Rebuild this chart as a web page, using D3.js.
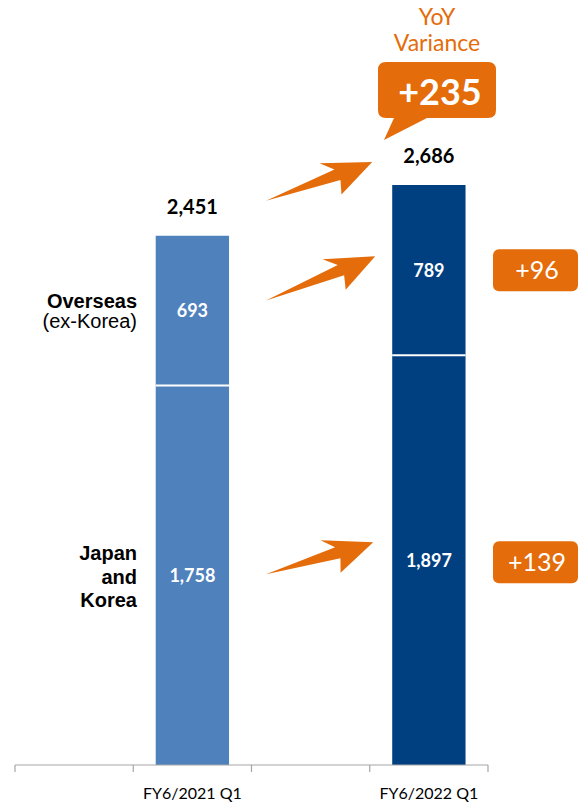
<!DOCTYPE html>
<html><head><meta charset="utf-8">
<script src="https://cdn.jsdelivr.net/npm/d3@7"></script>
<style>body{margin:0;background:#fff}svg{display:block}</style>
</head><body>
<script>
const categories = ["", "FY6/2021 Q1", " ", "FY6/2022 Q1"];
const barCategories = ["FY6/2021 Q1", "FY6/2022 Q1"];
const japanKorea = [1758, 1897];
const overseas = [693, 789];
const totals = [2451, 2686];
const segmentVariance = ["+139", "+96"];
const totalVariance = "+235";
const calloutTitle = ["YoY", "Variance"];

const W = 579, H = 803;
const ORANGE = "#E46C0A";
const colors = ["#4F81BD", "#003F80"];
const numFont = "Lato, 'Open Sans', sans-serif";

const svg = d3.select("body").append("svg").attr("width", W).attr("height", H);

const x = d3.scaleBand().domain(categories).range([15, 488]).paddingInner(0.38).paddingOuter(0.19);
const y = d3.scaleLinear().domain([0, 2686]).range([765, 185]);

// bars
const stack = barCategories.map((c, i) => ({c, i, jk: japanKorea[i], ov: overseas[i], tot: totals[i]}));
const g = svg.append("g");
stack.forEach(d => {
  const x0 = x(d.c), bw = x.bandwidth();
  g.append("rect").attr("x", x0).attr("width", bw)
    .attr("y", y(d.jk)).attr("height", y(0) - y(d.jk)).attr("fill", colors[d.i]);
  g.append("rect").attr("x", x0).attr("width", bw)
    .attr("y", y(d.jk + d.ov)).attr("height", y(d.jk) - y(d.jk + d.ov)).attr("fill", colors[d.i]);
  g.append("line").attr("x1", x0).attr("x2", x0 + bw).attr("y1", y(d.jk)).attr("y2", y(d.jk))
    .attr("stroke", "#fff").attr("stroke-width", 2);
  g.append("text").attr("x", x0 + bw / 2).attr("y", (y(0) + y(d.jk)) / 2).attr("dy", "0.36em")
    .attr("text-anchor", "middle").attr("fill", "#fff").attr("font-family", numFont)
    .attr("font-weight", "bold").attr("font-size", 18).text(d3.format(",")(d.jk));
  g.append("text").attr("x", x0 + bw / 2).attr("y", (y(d.jk) + y(d.jk + d.ov)) / 2).attr("dy", "0.36em")
    .attr("text-anchor", "middle").attr("fill", "#fff").attr("font-family", numFont)
    .attr("font-weight", "bold").attr("font-size", 18).text(d3.format(",")(d.ov));
  g.append("text").attr("x", x0 + bw / 2).attr("y", y(d.tot) - 22)
    .attr("text-anchor", "middle").attr("fill", "#000").attr("font-family", numFont)
    .attr("font-weight", "bold").attr("font-size", 20).text(d3.format(",")(d.tot));
});

// axis
const axisG = svg.append("g");
const edges = categories.map(c => x(c) - x.step() * x.paddingInner() / 2).concat([488]);
axisG.append("line").attr("x1", 15).attr("x2", 488).attr("y1", y(0)).attr("y2", y(0))
  .attr("stroke", "#A6A6A6").attr("stroke-width", 1.2);
edges.forEach(e => {
  axisG.append("line").attr("x1", e).attr("x2", e).attr("y1", y(0)).attr("y2", y(0) + 7)
    .attr("stroke", "#A6A6A6").attr("stroke-width", 1.2);
});
barCategories.forEach(c => {
  axisG.append("text").attr("x", x(c) + x.bandwidth() / 2).attr("y", 799)
    .attr("text-anchor", "middle").attr("font-family", numFont).attr("font-size", 16)
    .attr("fill", "#000").text(c);
});

// left labels
const lab = svg.append("g").attr("font-family", "'Liberation Sans', Arial, sans-serif").attr("fill", "#000").attr("text-anchor", "end");
const ovMid = (y(japanKorea[0]) + y(totals[0])) / 2;
lab.append("text").attr("x", 137).attr("y", ovMid - 3).attr("font-weight", "bold").attr("font-size", 20).text("Overseas");
lab.append("text").attr("x", 137).attr("y", ovMid + 17).attr("font-size", 20).text("(ex-Korea)");
const jkMid = (y(0) + y(japanKorea[0])) / 2;
["Japan", "and", "Korea"].forEach((t, i) => {
  lab.append("text").attr("x", 137).attr("y", jkMid - 15 + i * 23.5).attr("font-weight", "bold").attr("font-size", 20).text(t);
});

// arrows
function arrow(x1, y1, x2, y2) {
  const dx = x2 - x1, dy = y2 - y1, L = Math.hypot(dx, dy);
  const ux = dx / L, uy = dy / L, nx = -uy, ny = ux;
  const P = (t, n) => [x1 + ux * t + nx * n, y1 + uy * t + ny * n];
  const pts = [P(0, 0), P(L - 38, -6), P(L - 50, -17), P(L, 0), P(L - 40, 20), P(L - 36, 6)];
  svg.append("path").attr("d", "M" + pts.map(p => p.join(",")).join("L") + "Z").attr("fill", ORANGE);
}
const bx1 = x(barCategories[0]) + x.bandwidth() + 37;
const bx2 = x(barCategories[1]) - 20;
arrow(bx1, y(totals[0]) - 35, bx2, y(totals[1]) - 23);
arrow(bx1, (y(japanKorea[0]) + y(totals[0])) / 2 - 10, bx2 + 3, (y(japanKorea[1]) + y(totals[1])) / 2 - 14);
arrow(bx1, jkMid - 1, bx2 + 1, (y(0) + y(japanKorea[1])) / 2 - 18);

// callout
const cx = 437;
svg.append("text").attr("x", cx).attr("y", 25).attr("text-anchor", "middle").attr("fill", ORANGE)
  .attr("font-family", numFont).attr("font-size", 23).text(calloutTitle[0]);
svg.append("text").attr("x", cx).attr("y", 51).attr("text-anchor", "middle").attr("fill", ORANGE)
  .attr("font-family", numFont).attr("font-size", 23).text(calloutTitle[1]);
const bx = 378, by = 62, bw = 118, bh = 56, r = 8;
svg.append("path").attr("fill", ORANGE).attr("d",
  `M${bx + r},${by}H${bx + bw - r}Q${bx + bw},${by} ${bx + bw},${by + r}V${by + bh - r}Q${bx + bw},${by + bh} ${bx + bw - r},${by + bh}` +
  `H427L384,140L394,${by + bh}H${bx + r}Q${bx},${by + bh} ${bx},${by + bh - r}V${by + r}Q${bx},${by} ${bx + r},${by}Z`);
svg.append("text").attr("x", cx + 3).attr("y", 92).attr("dy", "0.36em").attr("text-anchor", "middle")
  .attr("fill", "#fff").attr("font-family", numFont).attr("font-weight", "bold").attr("font-size", 36).text(totalVariance);

// variance boxes
const boxYs = [(y(0) + y(japanKorea[1])) / 2 + 2, (y(japanKorea[1]) + y(totals[1])) / 2];
segmentVariance.forEach((t, i) => {
  svg.append("rect").attr("x", 493).attr("y", boxYs[i] - 21).attr("width", 85).attr("height", 42)
    .attr("rx", 6).attr("fill", ORANGE);
  svg.append("text").attr("x", 537).attr("y", boxYs[i]).attr("dy", "0.36em").attr("text-anchor", "middle")
    .attr("fill", "#fff").attr("font-family", numFont).attr("font-size", 25).text(t);
});
</script>
</body></html>
